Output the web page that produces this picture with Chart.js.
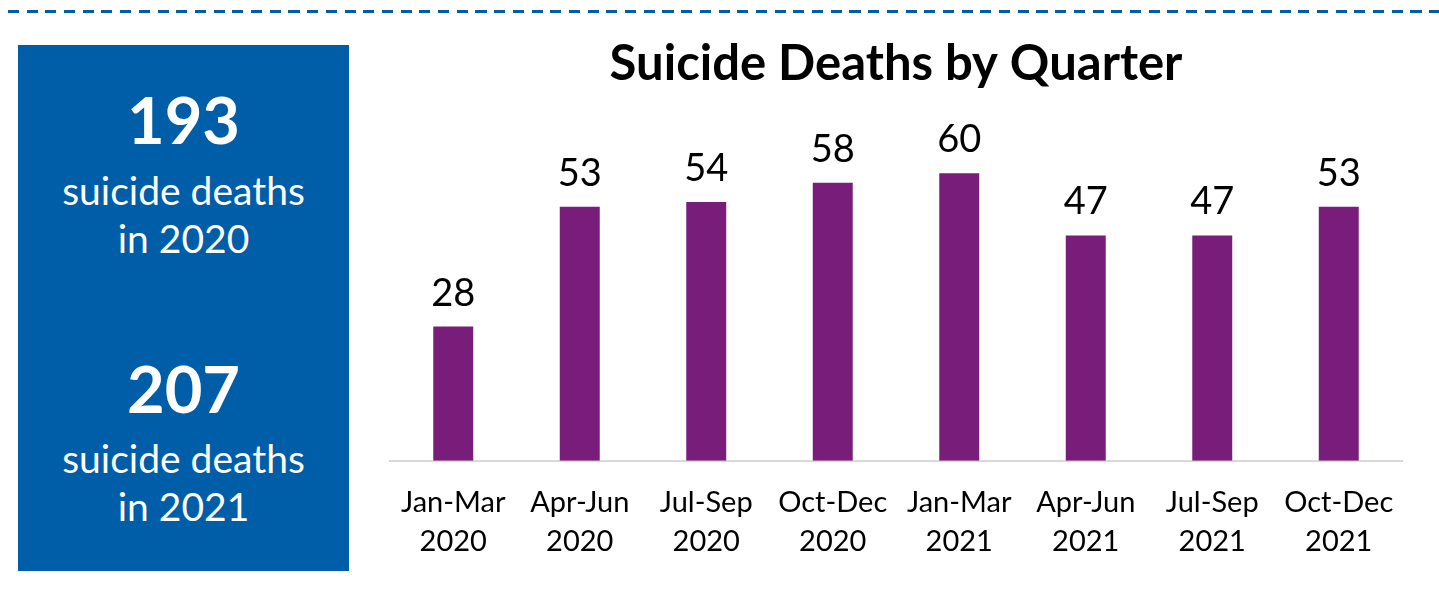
<!DOCTYPE html>
<html>
<head>
<meta charset="utf-8">
<script src="https://cdn.jsdelivr.net/npm/chart.js@4"></script>
<style>
  html, body { margin: 0; padding: 0; background: #fff; }
  body { width: 1439px; height: 598px; position: relative; overflow: hidden; font-family: Lato, "Open Sans", sans-serif; }
  #dash { position: absolute; left: 8px; top: 10px; width: 1431px; height: 3px;
          background: repeating-linear-gradient(to right, #005DA8 0, #005DA8 11px, transparent 11px, transparent 18.7px); }
  #box { position: absolute; left: 18px; top: 45px; width: 331px; height: 526px; background: #005DA8; color: #fff; text-align: center; }
  .big { position: absolute; left: 0; width: 100%; font-weight: bold; font-size: 65px; line-height: 66px; }
  .small { position: absolute; left: 0; width: 100%; font-size: 39px; line-height: 48px; }
  #wrap { position: absolute; left: 360px; top: 30px; width: 1070px; height: 568px; }
</style>
</head>
<body>
<div id="dash"></div>
<div id="box">
  <div class="big" style="top:41px">193</div>
  <div class="small" style="top:121px">suicide deaths<br>in 2020</div>
  <div class="big" style="top:310px">207</div>
  <div class="small" style="top:389px">suicide deaths<br>in 2021</div>
</div>
<div id="wrap"><canvas id="quarterChart"></canvas></div>
<script>
// quarters and counts
var quarters = [
    ['Jan-Mar', '2020'], ['Apr-Jun', '2020'], ['Jul-Sep', '2020'], ['Oct-Dec', '2020'],
    ['Jan-Mar', '2021'], ['Apr-Jun', '2021'], ['Jul-Sep', '2021'], ['Oct-Dec', '2021']
];
var deaths = [28, 53, 54, 58, 60, 47, 47, 53];

// draws the number above each bar
var barLabels = {
    id: 'barLabels',
    afterDatasetsDraw: function(chart) {
        var ctx = chart.ctx;
        var meta = chart.getDatasetMeta(0);
        ctx.save();
        ctx.font = '38px Lato, "Open Sans", sans-serif';
        ctx.fillStyle = '#000';
        ctx.textAlign = 'center';
        ctx.textBaseline = 'alphabetic';
        meta.data.forEach(function(bar, i) {
            ctx.fillText(chart.data.datasets[0].data[i], bar.x, bar.y - 21);
        });
        ctx.restore();
    }
};

document.addEventListener("DOMContentLoaded", function() {
    var ctx = document.getElementById('quarterChart').getContext('2d');
    new Chart(ctx, {
        type: 'bar',
        data: {
            labels: quarters,
            datasets: [{
                label: 'Suicide deaths',
                data: deaths,
                backgroundColor: '#781E7A',
                barPercentage: 0.316,
                categoryPercentage: 1
            }]
        },
        options: {
            responsive: true,
            maintainAspectRatio: false,
            animation: false,
            layout: { padding: { left: 30, right: 28, bottom: 23 } },
            plugins: {
                legend: { display: false },
                tooltip: { enabled: false },
                title: {
                    display: true,
                    text: 'Suicide Deaths by Quarter',
                    color: '#000',
                    font: { family: 'Lato, "Open Sans", sans-serif', size: 49, weight: 'bold' },
                    padding: { top: 5, bottom: 54 }
                }
            },
            scales: {
                x: {
                    grid: { display: false },
                    border: { display: true, color: '#D9D9D9', width: 2 },
                    ticks: {
                        color: '#000',
                        padding: 14,
                        maxRotation: 0,
                        font: { family: 'Lato, "Open Sans", sans-serif', size: 29, lineHeight: 1.35 }
                    }
                },
                y: {
                    display: false,
                    min: 0,
                    max: 65.3
                }
            }
        },
        plugins: [barLabels]
    });
});
</script>
</body>
</html>
